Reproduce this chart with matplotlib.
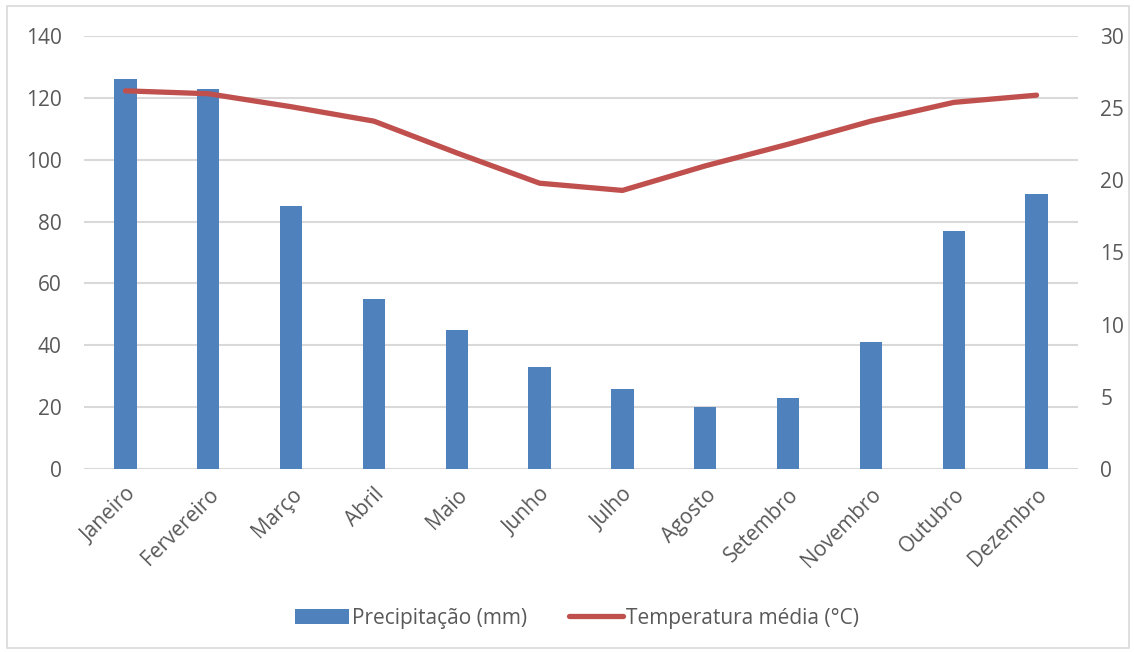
import matplotlib
matplotlib.use("Agg")
import matplotlib.pyplot as plt
from matplotlib.patches import Rectangle

months = ["Janeiro", "Fervereiro", "Março", "Abril", "Maio", "Junho",
          "Julho", "Agosto", "Setembro", "Novembro", "Outubro", "Dezembro"]
precip_mm = [126, 123, 85, 55, 45, 33, 26, 20, 23, 41, 77, 89]
temp_c = [26.2, 26.0, 25.1, 24.1, 21.9, 19.8, 19.3, 21.0, 22.5, 24.1, 25.4, 25.9]

bar_color = "#4f81bd"
line_color = "#c0504d"
text_color = "#595959"
grid_color = "#d9d9d9"

plt.rcParams["font.family"] = ["Open Sans", "DejaVu Sans"]
fs = 15

fig = plt.figure(figsize=(11.34, 6.52), dpi=100)
ax = fig.add_axes([0.0741, 0.2807, 0.8765, 0.6641])
ax2 = ax.twinx()

x = list(range(len(months)))
bars = ax.bar(x, precip_mm, width=0.27, color=bar_color, zorder=3,
              label="Precipitação (mm)")
line, = ax2.plot(x, temp_c, color=line_color, lw=3.8, solid_capstyle="round",
                 solid_joinstyle="round", label="Temperatura média (°C)", zorder=4)

ax.set_xlim(-0.5, len(months) - 0.5)
ax.set_ylim(0, 140)
ax.set_yticks(range(0, 141, 20))
ax2.set_ylim(0, 30)
ax2.set_yticks(range(0, 31, 5))

ax.yaxis.grid(True, color=grid_color, lw=1.5, zorder=0)
ax.set_axisbelow(True)

for a in (ax, ax2):
    for s in a.spines.values():
        s.set_visible(False)
    a.tick_params(length=0, colors=text_color, labelsize=fs)

ax.tick_params(axis="y", pad=16)
ax2.tick_params(axis="y", pad=16)
ax.set_xticks(x)
ax.set_xticklabels(months, rotation=45, ha="right", rotation_mode="anchor")
ax.tick_params(axis="x", pad=11)

fig.legend(handles=[bars, line], loc="center", bbox_to_anchor=(0.509, 0.052),
           ncol=2, frameon=False, fontsize=fs, labelcolor=text_color,
           handlelength=2.6, handleheight=0.7, handletextpad=0.15,
           columnspacing=2.0)

fig.patches.append(Rectangle((0.006, 0.006), 0.99, 0.985, transform=fig.transFigure,
                             fill=False, edgecolor="#d9d9d9", lw=1.2))

fig.savefig("out.png", dpi=100, facecolor="white")
